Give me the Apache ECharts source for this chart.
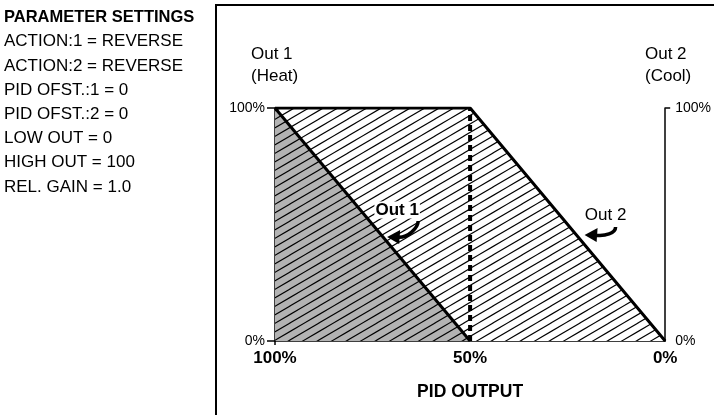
<!DOCTYPE html>
<html>
<head>
<meta charset="utf-8">
<script src="https://cdn.jsdelivr.net/npm/echarts@6/dist/echarts.min.js"></script>
<style>
  html, body { margin: 0; padding: 0; background: #fff; }
  #chart { width: 714px; height: 415px; }
</style>
</head>
<body>
<div id="chart"></div>
<script>
// PID output (%) along the horizontal axis, 100% on the left
const pidOutput = [100, 50, 0];
// Out 1 (heat) and Out 2 (cool) output levels (%) at each PID output point
const out1 = [100, 0, null];
const out2 = [100, 100, 0];
// Split point between heating and cooling, and its vertical extent (%)
const splitAt = 50;
const splitSpan = [0, 100];
// Axis tick values
const xTicks = [0, 50, 100];
const yTicks = [0, 100];

const paramLines = [
  'ACTION:1 = REVERSE',
  'ACTION:2 = REVERSE',
  'PID OFST.:1 = 0',
  'PID OFST.:2 = 0',
  'LOW OUT = 0',
  'HIGH OUT = 100',
  'REL. GAIN = 1.0'
];

const FONT = '"Liberation Sans", Arial, Helvetica, sans-serif';

// Diagonal hatch tile used to fill the regions under the output curves
function hatch(bg) {
  const w = 29, h = 17;
  const c = document.createElement('canvas');
  c.width = w; c.height = h;
  const g = c.getContext('2d');
  g.fillStyle = bg;
  g.fillRect(0, 0, w, h);
  g.strokeStyle = '#000';
  g.lineWidth = 1.1;
  for (let k = -2; k <= 2; k++) {
    const off = k * h / 2;
    g.beginPath();
    g.moveTo(-2, h + 2 * h / w + off);
    g.lineTo(w + 2, -2 * h / w + off);
    g.stroke();
  }
  return { image: c, repeat: 'repeat' };
}

const pts = arr => pidOutput.map((x, i) => [x, arr[i]]).filter(p => p[1] !== null);

const chart = echarts.init(document.getElementById('chart'));

const axisLineStyle = { color: '#000', width: 1.5 };

chart.setOption({
  animation: false,
  grid: { left: 275, right: 46, top: 108, bottom: 74, containLabel: false },
  xAxis: {
    type: 'value', min: 0, max: 100, interval: 50, inverse: true,
    name: 'PID OUTPUT', nameLocation: 'middle', nameGap: 42,
    nameTextStyle: { fontFamily: FONT, fontWeight: 'bold', fontSize: 17.5, color: '#000' },
    axisLine: { lineStyle: axisLineStyle },
    axisTick: { show: true, length: 4, lineStyle: axisLineStyle, customValues: [100] },
    axisLabel: {
      fontFamily: FONT, fontWeight: 'bold', fontSize: 17, color: '#000', margin: 9,
      customValues: xTicks, formatter: v => v + '%'
    },
    splitLine: { show: false }
  },
  yAxis: [
    {
      type: 'value', min: 0, max: 100, interval: 100, position: 'left',
      axisLine: { show: true, onZero: false, lineStyle: axisLineStyle },
      axisTick: { show: true, length: 8, lineStyle: axisLineStyle },
      axisLabel: { fontFamily: FONT, fontSize: 14, color: '#000', margin: 10, formatter: v => v + '%' },
      splitLine: { show: false }
    },
    {
      type: 'value', min: 0, max: 100, interval: 100, position: 'right',
      axisLine: { show: true, onZero: false, lineStyle: axisLineStyle },
      axisTick: { show: true, length: 5, lineStyle: axisLineStyle, customValues: [100] },
      axisLabel: { fontFamily: FONT, fontSize: 14, color: '#000', margin: 10, customValues: yTicks, formatter: v => v + '%' },
      splitLine: { show: false }
    }
  ],
  series: [
    {
      name: 'Out 2', type: 'line', data: pts(out2),
      symbol: 'none', z: 2,
      lineStyle: { color: '#000', width: 3 },
      areaStyle: { color: hatch('#ffffff'), opacity: 1 }
    },
    {
      name: 'Out 1', type: 'line', data: pts(out1),
      symbol: 'none', z: 3,
      lineStyle: { color: '#000', width: 3 },
      areaStyle: { color: hatch('#b3b3b3'), opacity: 1 }
    },
    {
      name: 'split', type: 'line', data: splitSpan.map(v => [splitAt, v]),
      symbol: 'none', z: 4, clip: false,
      lineStyle: { color: '#000', width: 4, type: [6, 4], cap: 'butt' }
    }
  ]
});

// Curved pointer arrow; tip at (0,0), pointing left
function arrow(tip, curveEnd) {
  return {
    type: 'group', x: tip[0], y: tip[1], silent: true,
    children: [
      {
        type: 'bezierCurve', z: 30,
        shape: { x1: 8, y1: 0, cpx1: 20, cpy1: 2, cpx2: curveEnd[0], cpy2: curveEnd[1] + 6, x2: curveEnd[0], y2: curveEnd[1] },
        style: { stroke: '#000', lineWidth: 3.5, fill: null }
      },
      {
        type: 'polygon', z: 30,
        shape: { points: [[-1, 0], [12, -7], [11, 7]] },
        style: { fill: '#000' }
      }
    ]
  };
}

const p1 = chart.convertToPixel({ xAxisIndex: 0, yAxisIndex: 0 }, [71, 44.6]);
const p2 = chart.convertToPixel({ xAxisIndex: 0, yAxisIndex: 0 }, [20.4, 45.5]);

const graphics = [
  {
    type: 'rect', silent: true, z: 0,
    shape: { x: 216, y: 5, width: 540, height: 440 },
    style: { fill: null, stroke: '#000', lineWidth: 2 }
  },
  {
    type: 'text', x: 4, y: 17.5, silent: true,
    style: { text: 'PARAMETER SETTINGS', fontFamily: FONT, fontWeight: 'bold', fontSize: 16.5, fill: '#000', verticalAlign: 'middle' }
  },
  ...paramLines.map((t, i) => ({
    type: 'text', x: 4, y: 41.7 + i * 24.2, silent: true,
    style: { text: t, fontFamily: FONT, fontSize: 17, fill: '#000', verticalAlign: 'middle' }
  })),
  {
    type: 'text', x: 251, y: 54, silent: true,
    style: { text: 'Out 1', fontFamily: FONT, fontSize: 17, fill: '#000', verticalAlign: 'middle' }
  },
  {
    type: 'text', x: 251, y: 76, silent: true,
    style: { text: '(Heat)', fontFamily: FONT, fontSize: 17, fill: '#000', verticalAlign: 'middle' }
  },
  {
    type: 'text', x: 645, y: 54, silent: true,
    style: { text: 'Out 2', fontFamily: FONT, fontSize: 17, fill: '#000', verticalAlign: 'middle' }
  },
  {
    type: 'text', x: 645, y: 76, silent: true,
    style: { text: '(Cool)', fontFamily: FONT, fontSize: 17, fill: '#000', verticalAlign: 'middle' }
  },
  {
    type: 'text', x: p1[0] + 9, y: p1[1] - 27, silent: true, z: 30,
    style: { text: 'Out 1', fontFamily: FONT, fontWeight: 'bold', fontSize: 17, fill: '#000', align: 'center', verticalAlign: 'middle',
      backgroundColor: '#fff', padding: [0, 1] }
  },
  arrow(p1, [30, -16]),
  {
    type: 'text', x: p2[0] + 20, y: p2[1] - 20, silent: true, z: 30,
    style: { text: 'Out 2', fontFamily: FONT, fontSize: 17, fill: '#000', align: 'center', verticalAlign: 'middle' }
  },
  arrow(p2, [30, -8])
];

chart.setOption({ graphic: graphics });
</script>
</body>
</html>
